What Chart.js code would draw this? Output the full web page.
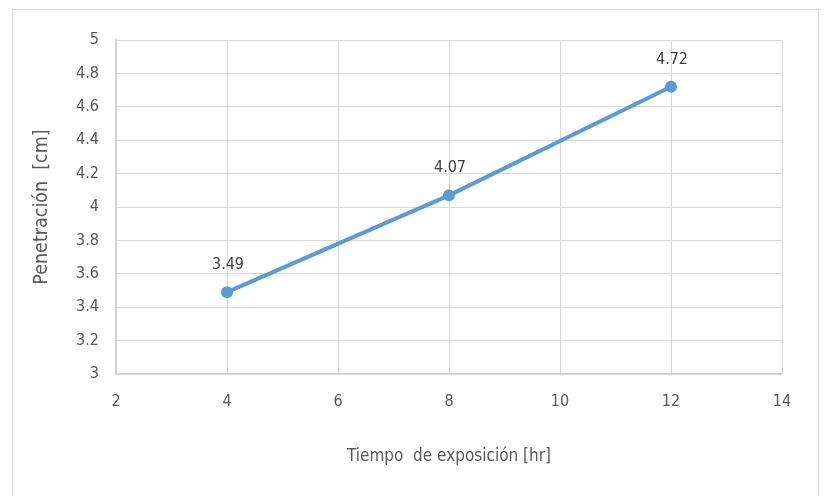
<!DOCTYPE html>
<html>
<head>
<meta charset="utf-8">
<script src="https://cdn.jsdelivr.net/npm/chart.js@4"></script>
<style>
html,body{margin:0;padding:0;background:#fff;}
#wrap{width:838px;height:496px;}
</style>
</head>
<body>
<div id="wrap"><canvas id="c" width="838" height="496"></canvas></div>
<script>
const hours = [4, 8, 12];
const penetration = [3.49, 4.07, 4.72];
const xTicks = [2, 4, 6, 8, 10, 12, 14];
const yTicks = [3, 3.2, 3.4, 3.6, 3.8, 4, 4.2, 4.4, 4.6, 4.8, 5];
const xTitle = 'Tiempo  de exposición [hr]';
const yTitle = 'Penetración  [cm]';

const FONT = '"DejaVu Sans Condensed", "Liberation Sans Narrow", "Open Sans", sans-serif';

const borderPlugin = {
  id: 'outerBorder',
  beforeDraw(chart) {
    const ctx = chart.ctx;
    ctx.save();
    ctx.fillStyle = '#fff';
    ctx.fillRect(0, 0, chart.width, chart.height);
    ctx.strokeStyle = '#d9d9d9';
    ctx.lineWidth = 1;
    ctx.strokeRect(12.5, 9.5, 806, 520);
    ctx.restore();
  }
};

const labelPlugin = {
  id: 'valueLabels',
  afterDatasetsDraw(chart) {
    const ctx = chart.ctx;
    const meta = chart.getDatasetMeta(0);
    ctx.save();
    ctx.font = '16px ' + FONT;
    ctx.fillStyle = '#404040';
    ctx.textAlign = 'center';
    ctx.textBaseline = 'middle';
    meta.data.forEach((pt, i) => {
      ctx.fillText(penetration[i].toFixed(2), pt.x + 1, pt.y - 27);
    });
    ctx.restore();
  }
};

new Chart(document.getElementById('c'), {
  type: 'scatter',
  data: {
    datasets: [{
      data: hours.map((h, i) => ({x: h, y: penetration[i]})),
      showLine: true,
      borderColor: '#5b9bd5',
      backgroundColor: '#5b9bd5',
      borderWidth: 4,
      pointRadius: 4,
      pointHoverRadius: 4,
      borderCapStyle: 'round'
    }]
  },
  options: {
    responsive: false,
    animation: false,
    events: [],
    layout: {padding: {left: 26, right: 56, top: 40, bottom: 25}},
    plugins: {legend: {display: false}, tooltip: {enabled: false}},
    scales: {
      x: {
        type: 'linear',
        min: 2, max: 14,
        afterBuildTicks(axis) { axis.ticks = xTicks.map(v => ({value: v})); },
        afterFit(axis) { axis.height = 496 - 374 - 25; },
        grid: {color: '#d9d9d9', lineWidth: 1, drawTicks: false},
        border: {display: true, color: '#d0d0d0', width: 1.5},
        ticks: {color: '#595959', font: {family: FONT, size: 16}, padding: 18, maxRotation: 0},
        title: {display: true, text: xTitle, color: '#595959', font: {family: FONT, size: 17}, padding: {top: 4, bottom: 4}}
      },
      y: {
        type: 'linear',
        min: 3, max: 5,
        afterBuildTicks(axis) { axis.ticks = yTicks.map(v => ({value: v})); },
        afterFit(axis) { axis.width = 116 - 26; },
        grid: {color: '#d9d9d9', lineWidth: 1, drawTicks: false},
        border: {display: true, color: '#d0d0d0', width: 1.5},
        ticks: {color: '#595959', font: {family: FONT, size: 16}, padding: 17, callback: v => String(Math.round(v * 10) / 10)},
        title: {display: true, text: yTitle, color: '#595959', font: {family: FONT, size: 19.5}, padding: {top: 4, bottom: 4}}
      }
    }
  },
  plugins: [borderPlugin, labelPlugin]
});
</script>
</body>
</html>
